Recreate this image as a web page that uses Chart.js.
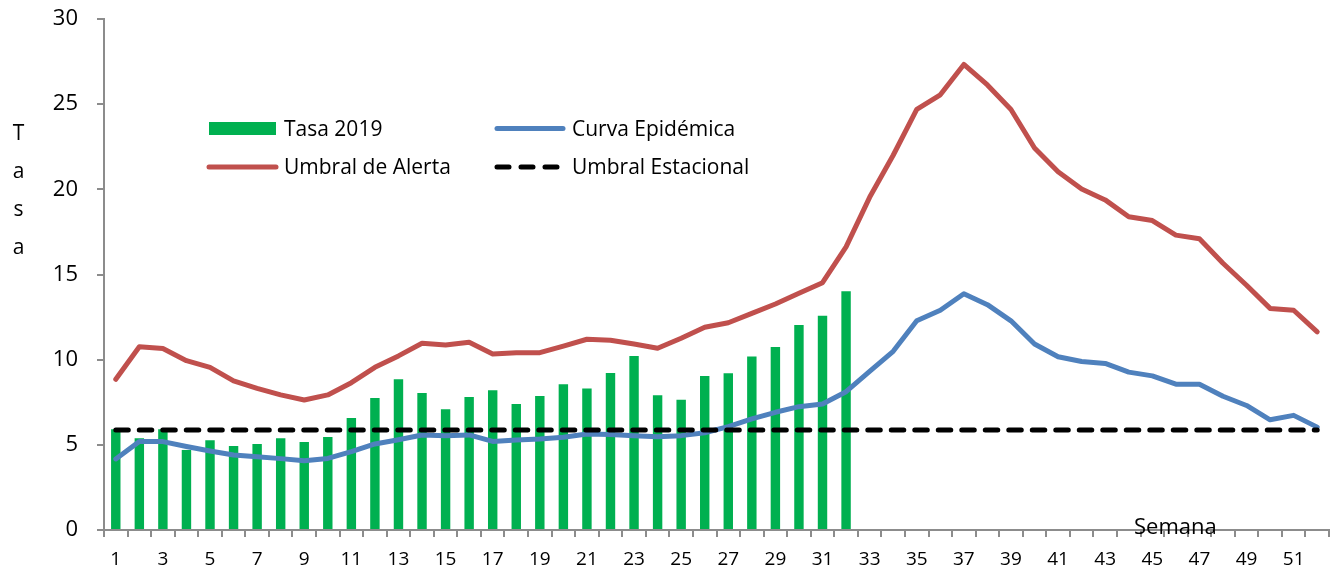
<!DOCTYPE html>
<html>
<head>
<meta charset="utf-8">
<script src="https://cdn.jsdelivr.net/npm/chart.js@4.4.1/dist/chart.umd.min.js"></script>
<style>
  html, body { margin: 0; padding: 0; background: #fff; }
  #wrap { position: relative; width: 1338px; height: 571px; font-family: 'Open Sans', sans-serif; color: #000; }
  #chart { position: absolute; left: 0; top: 0; }
  .txt { position: absolute; font-size: 21px; line-height: 28px; white-space: nowrap; }
  .sw { position: absolute; }
  #ytitle { position: absolute; left: 0; top: 113px; width: 37px; text-align: center; font-size: 21px; line-height: 38px; }
</style>
</head>
<body>
<div id="wrap">
  <canvas id="chart" width="1338" height="571"></canvas>

  <svg class="sw" style="left:205px;top:118px" width="76" height="22"><rect x="4" y="4" width="67" height="13" fill="#00B050"/></svg>
  <div class="txt" style="left:284px;top:114px">Tasa 2019</div>
  <svg class="sw" style="left:490px;top:118px" width="80" height="22"><line x1="7" y1="10.5" x2="73" y2="10.5" stroke="#4F81BD" stroke-width="5" stroke-linecap="round"/></svg>
  <div class="txt" style="left:572px;top:114px">Curva Epidémica</div>

  <svg class="sw" style="left:202px;top:156px" width="80" height="22"><line x1="7" y1="11" x2="74" y2="11" stroke="#C0504D" stroke-width="5" stroke-linecap="round"/></svg>
  <div class="txt" style="left:284px;top:152px">Umbral de Alerta</div>
  <svg class="sw" style="left:490px;top:156px" width="80" height="22"><line x1="7" y1="11" x2="74" y2="11" stroke="#000" stroke-width="5" stroke-linecap="round" stroke-dasharray="12 12"/></svg>
  <div class="txt" style="left:572px;top:152px">Umbral Estacional</div>

  <div id="ytitle">T<br>a<br>s<br>a</div>
  <div class="txt" style="left:1134px;top:511px;font-size:22px">Semana</div>
</div>

<script>
const semanas = [1, 2, 3, 4, 5, 6, 7, 8, 9, 10, 11, 12, 13, 14, 15, 16, 17, 18, 19, 20, 21, 22, 23, 24, 25, 26,
    27, 28, 29, 30, 31, 32, 33, 34, 35, 36, 37, 38, 39, 40, 41, 42, 43, 44, 45, 46, 47, 48, 49, 50, 51, 52];

const tasa2019 = [5.91, 5.38, 5.91, 4.70, 5.27, 4.93, 5.05, 5.38, 5.17, 5.46, 6.58, 7.75, 8.85, 8.04, 7.09, 7.81,
    8.20, 7.40, 7.87, 8.55, 8.30, 9.22, 10.22, 7.91, 7.65, 9.04, 9.20, 10.18, 10.75, 12.04, 12.58, 14.01];

const curvaEpidemica = [4.17, 5.19, 5.19, 4.90, 4.64, 4.40, 4.30, 4.19, 4.07, 4.20, 4.60, 5.05, 5.30, 5.58, 5.54, 5.58,
    5.20, 5.28, 5.34, 5.44, 5.64, 5.60, 5.54, 5.48, 5.54, 5.71, 6.07, 6.52, 6.91, 7.24, 7.40, 8.12,
    9.31, 10.49, 12.28, 12.90, 13.87, 13.23, 12.28, 10.92, 10.17, 9.89, 9.78, 9.27, 9.05, 8.56, 8.56, 7.85,
    7.31, 6.47, 6.73, 6.04];

const umbralAlerta = [8.85, 10.76, 10.65, 9.94, 9.55, 8.75, 8.32, 7.93, 7.63, 7.93, 8.65, 9.55, 10.22, 10.96, 10.86, 11.02,
    10.33, 10.41, 10.41, 10.80, 11.20, 11.14, 10.92, 10.67, 11.26, 11.90, 12.17, 12.72, 13.27, 13.90, 14.52, 16.62,
    19.53, 22.00, 24.69, 25.55, 27.33, 26.13, 24.69, 22.43, 21.03, 20.02, 19.38, 18.39, 18.17, 17.31, 17.10, 15.66,
    14.37, 13.01, 12.90, 11.63];

const umbralEstacional = [5.87, 5.87, 5.87, 5.87, 5.87, 5.87, 5.87, 5.87, 5.87, 5.87, 5.87, 5.87, 5.87,
    5.87, 5.87, 5.87, 5.87, 5.87, 5.87, 5.87, 5.87, 5.87, 5.87, 5.87, 5.87, 5.87,
    5.87, 5.87, 5.87, 5.87, 5.87, 5.87, 5.87, 5.87, 5.87, 5.87, 5.87, 5.87, 5.87,
    5.87, 5.87, 5.87, 5.87, 5.87, 5.87, 5.87, 5.87, 5.87, 5.87, 5.87, 5.87, 5.87];

const yTicks = [0, 5, 10, 15, 20, 25, 30];

const axisColor = '#8c8c8c';
const font = 'Open Sans';

const ctx = document.getElementById('chart').getContext('2d');
new Chart(ctx, {
    type: 'bar',
    data: {
        labels: semanas,
        datasets: [
            {
                type: 'line',
                label: 'Umbral Estacional',
                data: umbralEstacional,
                borderColor: '#000',
                borderWidth: 5,
                borderDash: [12.5, 11],
                borderCapStyle: 'round',
                pointRadius: 0,
                tension: 0,
                order: 0,
            },
            {
                type: 'line',
                label: 'Curva Epidémica',
                data: curvaEpidemica,
                borderColor: '#4F81BD',
                borderWidth: 5,
                borderCapStyle: 'round',
                borderJoinStyle: 'round',
                pointRadius: 0,
                tension: 0,
                order: 1,
            },
            {
                type: 'line',
                label: 'Umbral de Alerta',
                data: umbralAlerta,
                borderColor: '#C0504D',
                borderWidth: 5,
                borderCapStyle: 'round',
                borderJoinStyle: 'round',
                pointRadius: 0,
                tension: 0,
                order: 2,
            },
            {
                label: 'Tasa 2019',
                data: tasa2019,
                backgroundColor: '#00B050',
                barPercentage: 0.4,
                categoryPercentage: 1,
                order: 3,
            },
        ],
    },
    options: {
        responsive: false,
        animation: false,
        events: [],
        layout: { padding: { left: 0, right: 9, top: 19, bottom: 0 } },
        plugins: { legend: { display: false }, tooltip: { enabled: false } },
        scales: {
            x: {
                grid: { display: true, drawOnChartArea: false, tickLength: 7, color: axisColor, lineWidth: 2 },
                border: { color: axisColor, width: 2 },
                ticks: {
                    autoSkip: false,
                    maxRotation: 0,
                    padding: 11,
                    color: '#000',
                    font: { family: font, size: 19 },
                    callback: (v, i) => (i % 2 === 0 ? String(semanas[i]) : ''),
                },
                afterFit: (scale) => { scale.height = 41; },
            },
            y: {
                min: 0,
                max: 30,
                afterBuildTicks: (scale) => { scale.ticks = yTicks.map(v => ({ value: v })); },
                grid: { display: true, drawOnChartArea: false, tickLength: 7, color: axisColor, lineWidth: 2 },
                border: { color: axisColor, width: 2 },
                ticks: { padding: 19, color: '#000', font: { family: font, size: 22 } },
                afterFit: (scale) => {
                    scale.width = 104;
                    scale.paddingTop = 0;
                    scale.paddingBottom = 0;
                },
            },
        },
    },
});
</script>
</body>
</html>
